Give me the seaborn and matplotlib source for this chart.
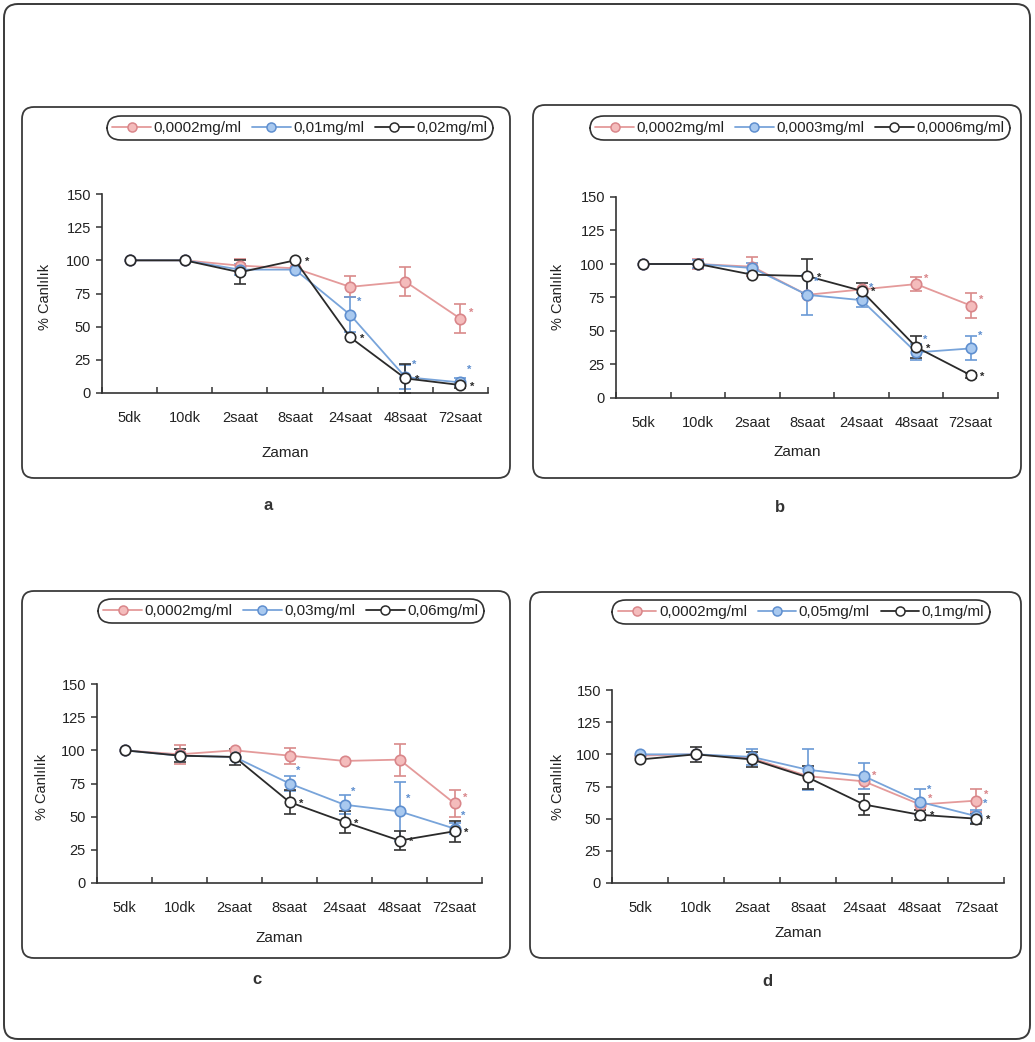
import numpy as np
import pandas as pd
import matplotlib
matplotlib.use("Agg")
import matplotlib.pyplot as plt
from matplotlib.patches import FancyBboxPatch
from matplotlib.lines import Line2D
import seaborn as sns

sns.set_style("white")
plt.rcParams["font.family"] = ["Liberation Sans", "DejaVu Sans"]

# ---- data -------------------------------------------------------------
times = ["5dk", "10dk", "2saat", "8saat", "24saat", "48saat", "72saat"]

labels_a = ["0,0002mg/ml", "0,01mg/ml", "0,02mg/ml"]
pink_a = [100, 100, 96, 94, 80, 84, 56]
pink_a_err = [0, 0, 5, 0, 8, 11, 11]
blue_a = [100, 100, 93, 93, 59, 12, 8]
blue_a_err = [0, 0, 4, 0, 13, 9, 3]
black_a = [100, 100, 91, 100, 42, 11, 6]
black_a_err = [0, 0, 9, 0, 0, 11, 2]
stars_a = [[6], [4, 5, 6], [3, 4, 5, 6]]

labels_b = ["0,0002mg/ml", "0,0003mg/ml", "0,0006mg/ml"]
pink_b = [100, 100, 98, 77, 81, 85, 69]
pink_b_err = [0, 4, 7, 0, 0, 5, 9]
blue_b = [100, 100, 97, 77, 73, 34, 37]
blue_b_err = [0, 3, 4, 15, 5, 6, 9]
black_b = [100, 100, 92, 91, 80, 38, 17]
black_b_err = [0, 0, 0, 13, 6, 8, 2]
stars_b = [[5, 6], [3, 4, 5, 6], [3, 4, 5, 6]]

labels_c = ["0,0002mg/ml", "0,03mg/ml", "0,06mg/ml"]
pink_c = [100, 97, 100, 96, 92, 93, 60]
pink_c_err = [0, 7, 0, 6, 0, 12, 10]
blue_c = [100, 96, 95, 75, 59, 54, 41]
blue_c_err = [0, 0, 0, 6, 7, 22, 4]
black_c = [100, 96, 95, 61, 46, 32, 39]
black_c_err = [0, 5, 6, 9, 8, 7, 8]
stars_c = [[6], [3, 4, 5, 6], [3, 4, 5, 6]]

labels_d = ["0,0002mg/ml", "0,05mg/ml", "0,1mg/ml"]
pink_d = [99, 100, 97, 83, 79, 61, 64]
pink_d_err = [0, 0, 0, 0, 0, 0, 9]
blue_d = [100, 100, 98, 88, 83, 63, 52]
blue_d_err = [0, 0, 6, 16, 10, 10, 5]
black_d = [96, 100, 96, 82, 61, 53, 50]
black_d_err = [0, 6, 6, 9, 8, 4, 4]
stars_d = [[4, 5, 6], [5, 6], [5, 6]]

panel_letters = ["a", "b", "c", "d"]

# ---- styling ----------------------------------------------------------
STYLES = [
    dict(line="#e49a9a", face="#f4bcbc", edge="#d9868a", err="#d98a8a", star=(6, 4)),
    dict(line="#78a4da", face="#a9c9ef", edge="#5f8fcf", err="#6a9ad6", star=(5, 9)),
    dict(line="#2a2a2a", face="white", edge="#2a2a2a", err="#333333", star=(7, -1)),
]

W, H = 1035, 1042
fig = plt.figure(figsize=(W / 100, H / 100), dpi=100)


def fx(x):
    return x / W


def fy(y):
    return 1 - y / H


def rbox(x0, y0, x1, y1, r=12, lw=1.3):
    p = FancyBboxPatch((fx(x0), fy(y1)), fx(x1) - fx(x0), fy(y0) - fy(y1),
                       boxstyle=f"round,pad=0,rounding_size={r / W}",
                       transform=fig.transFigure, facecolor="none",
                       edgecolor="#3a3a3a", linewidth=lw, zorder=0)
    fig.add_artist(p)


# outer frame
rbox(4, 4, 1030, 1039, r=14, lw=1.4)

panels = [
    dict(series=[(pink_a, pink_a_err), (blue_a, blue_a_err), (black_a, black_a_err)],
         labels=labels_a, stars=stars_a,
         ax=(102, 194, 488, 393), box=(22, 107, 510, 478),
         leg=(300, 128), ylab=(45, 297), xlab=453, letter=(268, 506)),
    dict(series=[(pink_b, pink_b_err), (blue_b, blue_b_err), (black_b, black_b_err)],
         labels=labels_b, stars=stars_b,
         ax=(616, 197, 998, 398), box=(533, 105, 1021, 478),
         leg=(800, 128), ylab=(558, 297), xlab=452, letter=(780, 508)),
    dict(series=[(pink_c, pink_c_err), (blue_c, blue_c_err), (black_c, black_c_err)],
         labels=labels_c, stars=stars_c,
         ax=(97, 684, 482, 883), box=(22, 591, 510, 958),
         leg=(291, 611), ylab=(42, 787), xlab=938, letter=(257, 980)),
    dict(series=[(pink_d, pink_d_err), (blue_d, blue_d_err), (black_d, black_d_err)],
         labels=labels_d, stars=stars_d,
         ax=(612, 690, 1004, 883), box=(530, 592, 1021, 958),
         leg=(801, 612), ylab=(558, 787), xlab=933, letter=(767, 982)),
]

xpos = np.arange(len(times))

for letter, pn in zip(panel_letters, panels):
    x0, y0, x1, y1 = pn["ax"]
    ax = fig.add_axes([fx(x0), fy(y1), fx(x1) - fx(x0), fy(y0) - fy(y1)])
    ax.set_facecolor("none")
    rbox(*pn["box"])

    handles = []
    for (vals, errs), st, lab, stars in zip(pn["series"], STYLES, pn["labels"], pn["stars"]):
        df = pd.DataFrame({"pos": xpos, "value": vals})
        errs = np.array(errs, dtype=float)
        mask = errs > 0
        ax.errorbar(xpos[mask], np.array(vals)[mask], yerr=errs[mask], fmt="none",
                    ecolor=st["err"], elinewidth=1.2, capsize=4, capthick=1.2, zorder=2)
        sns.lineplot(data=df, x="pos", y="value", ax=ax, color=st["line"],
                     linewidth=1.3, marker="o", markersize=7.5,
                     markerfacecolor=st["face"], markeredgecolor=st["edge"],
                     markeredgewidth=1.2, legend=False, zorder=3)
        for i in stars:
            ax.annotate("*", (xpos[i], vals[i]), xytext=st["star"],
                        textcoords="offset points", color=st["edge"],
                        fontsize=8, fontweight="bold", ha="left", va="center",
                        zorder=4)
        handles.append(Line2D([], [], color=st["line"], linewidth=1.3, marker="o",
                              markersize=6.5, markerfacecolor=st["face"],
                              markeredgecolor=st["edge"], markeredgewidth=1.1))

    ax.set_xlim(-0.5, len(times) - 0.5)
    ax.set_ylim(0, 150)
    ax.set_yticks(np.arange(0, 151, 25))
    ax.set_xticks(xpos)
    ax.set_xticklabels(times)
    ax.set_xticks(np.arange(-0.5, len(times), 1.0), minor=True)
    ax.tick_params(axis="x", which="major", length=0, pad=13, labelsize=10.5,
                   labelcolor="#222222")
    ax.tick_params(axis="x", which="minor", direction="in", length=4,
                   width=1.1, color="#333333", bottom=True)
    ax.tick_params(axis="y", which="major", direction="out", length=4, width=1.1,
                   color="#333333", left=True, pad=4, labelsize=10.5,
                   labelcolor="#222222")
    for s in ["top", "right"]:
        ax.spines[s].set_visible(False)
    for s in ["left", "bottom"]:
        ax.spines[s].set_color("#333333")
        ax.spines[s].set_linewidth(1.2)
    ax.set_xlabel("")
    ax.set_ylabel("")

    fig.text(fx(pn["ylab"][0]), fy(pn["ylab"][1]), "% Canlılık", rotation=90,
             ha="center", va="center", fontsize=10.5, color="#222222")
    fig.text(fx((x0 + x1) / 2 - 10), fy(pn["xlab"]), "Zaman", ha="center",
             va="center", fontsize=11, color="#222222")
    fig.text(fx(pn["letter"][0]), fy(pn["letter"][1]), letter, ha="center",
             va="center", fontsize=12, fontweight="bold", color="#333333")

    leg = fig.legend(handles, pn["labels"], loc="center",
                     bbox_to_anchor=(fx(pn["leg"][0]), fy(pn["leg"][1])),
                     bbox_transform=fig.transFigure, ncol=3, fontsize=11,
                     frameon=True, fancybox=True, handlelength=2.5,
                     handletextpad=0.2, columnspacing=0.7, borderpad=0.35,
                     borderaxespad=0)
    fr = leg.get_frame()
    fr.set_edgecolor("#333333")
    fr.set_linewidth(1.2)
    fr.set_facecolor("white")
    fr.set_alpha(1)
    fr.set_boxstyle("round,pad=0,rounding_size=0.9")
    for t in leg.get_texts():
        t.set_color("#222222")

fig.savefig("out.png", dpi=100, facecolor="white")
